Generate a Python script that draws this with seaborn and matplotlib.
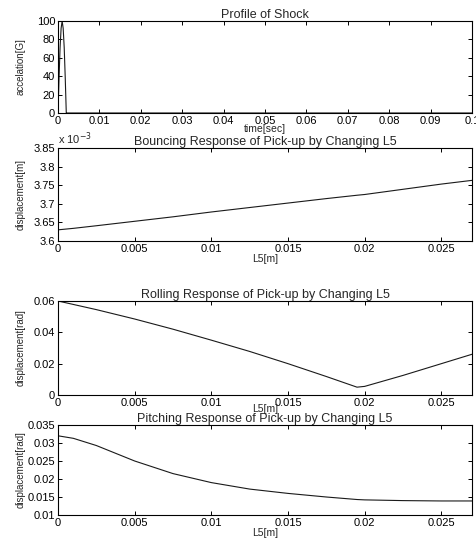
import matplotlib
matplotlib.use("Agg")
import matplotlib.pyplot as plt
import seaborn as sns
from matplotlib.ticker import FixedLocator, FixedFormatter

# ---- data ----
shock_t = [0, 0.00025, 0.0005, 0.00075, 0.001, 0.00125, 0.0015, 0.00175, 0.002, 0.0021, 0.01, 0.05, 0.1]
shock_a = [0, 38, 71, 92, 100, 92, 71, 38, 0, 0, 0, 0, 0]

l5 = [0, 0.001, 0.0025, 0.005, 0.0075, 0.01, 0.0125, 0.015, 0.0175, 0.0195, 0.02, 0.0225, 0.025, 0.027]
bounce = [3.630e-3, 3.634e-3, 3.641e-3, 3.653e-3, 3.665e-3, 3.678e-3, 3.690e-3, 3.702e-3, 3.714e-3,
          3.723e-3, 3.725e-3, 3.739e-3, 3.753e-3, 3.763e-3]
roll = [0.060, 0.0578, 0.0545, 0.0485, 0.0420, 0.0350, 0.0278, 0.0200, 0.0118, 0.0050, 0.0055, 0.0125, 0.0200, 0.0260]
pitch = [0.0320, 0.0313, 0.0293, 0.0250, 0.0215, 0.0190, 0.0172, 0.0160, 0.0150, 0.0143, 0.0142, 0.0140, 0.0139, 0.0139]

titles = ["Profile of Shock",
          "Bouncing Response of Pick-up by Changing L5",
          "Rolling Response of Pick-up by Changing L5",
          "Pitching Response of Pick-up by Changing L5"]
ylabels = ["accelation[G]", "displacement[m]", "displacement[rad]", "displacement[rad]"]
xlabels = ["time[sec]", "L5[m]", "L5[m]", "L5[m]"]

x1_ticks = [0, 0.01, 0.02, 0.03, 0.04, 0.05, 0.06, 0.07, 0.08, 0.09, 0.1]
x1_labels = ["0", "0.01", "0.02", "0.03", "0.04", "0.05", "0.06", "0.07", "0.08", "0.09", "0.1"]
y1_ticks = [0, 20, 40, 60, 80, 100]
y1_labels = ["0", "20", "40", "60", "80", "100"]

xl_ticks = [0, 0.005, 0.01, 0.015, 0.02, 0.025]
xl_labels = ["0", "0.005", "0.01", "0.015", "0.02", "0.025"]

y2_ticks = [3.6e-3, 3.65e-3, 3.7e-3, 3.75e-3, 3.8e-3, 3.85e-3]
y2_labels = ["3.6", "3.65", "3.7", "3.75", "3.8", "3.85"]
y3_ticks = [0, 0.02, 0.04, 0.06]
y3_labels = ["0", "0.02", "0.04", "0.06"]
y4_ticks = [0.01, 0.015, 0.02, 0.025, 0.03, 0.035]
y4_labels = ["0.01", "0.015", "0.02", "0.025", "0.03", "0.035"]

# ---- style ----
sns.set_style("ticks")
plt.rcParams["font.family"] = ["Liberation Sans", "DejaVu Sans"]
plt.rcParams["xtick.direction"] = "in"
plt.rcParams["ytick.direction"] = "in"

W, H = 477, 539
fig = plt.figure(figsize=(W / 100, H / 100), dpi=100)

left, right = 58, 472
boxes = [(21, 113), (148, 241), (301, 395), (425, 515)]
axes = []
for top, bot in boxes:
    ax = fig.add_axes([left / W, 1 - bot / H, (right - left) / W, (bot - top) / H])
    axes.append(ax)

lc = "#1a1a1a"
lw = 0.8
sns.lineplot(x=shock_t, y=shock_a, ax=axes[0], color=lc, lw=lw, estimator=None, sort=False)
sns.lineplot(x=l5, y=bounce, ax=axes[1], color=lc, lw=lw, estimator=None, sort=False)
sns.lineplot(x=l5, y=roll, ax=axes[2], color=lc, lw=lw, estimator=None, sort=False)
sns.lineplot(x=l5, y=pitch, ax=axes[3], color=lc, lw=lw, estimator=None, sort=False)

xlims = [(0, 0.1), (0, 0.027), (0, 0.027), (0, 0.027)]
ylims = [(0, 100), (3.6e-3, 3.85e-3), (0, 0.06), (0.01, 0.035)]
xt = [(x1_ticks, x1_labels), (xl_ticks, xl_labels), (xl_ticks, xl_labels), (xl_ticks, xl_labels)]
yt = [(y1_ticks, y1_labels), (y2_ticks, y2_labels), (y3_ticks, y3_labels), (y4_ticks, y4_labels)]
xpads = [-1, 0, -3, 0]

fs = 8
for i, ax in enumerate(axes):
    ax.set_xlim(*xlims[i])
    ax.set_ylim(*ylims[i])
    ax.xaxis.set_major_locator(FixedLocator(xt[i][0]))
    ax.xaxis.set_major_formatter(FixedFormatter(xt[i][1]))
    ax.yaxis.set_major_locator(FixedLocator(yt[i][0]))
    ax.yaxis.set_major_formatter(FixedFormatter(yt[i][1]))
    ax.tick_params(which="both", direction="in", top=True, right=True, length=3,
                   width=0.7, labelsize=fs, pad=2, colors="black")
    for s in ax.spines.values():
        s.set_visible(True)
        s.set_linewidth(0.8)
        s.set_color("black")
    ax.set_title(titles[i], fontsize=9, pad=2)
    ax.set_xlabel(xlabels[i], fontsize=7.5, labelpad=xpads[i])
    ax.set_ylabel(ylabels[i], fontsize=7, labelpad=3)
    ax.yaxis.set_label_coords(-0.078, 0.5)

axes[1].text(0.0, 1.01, r"x 10$^{-3}$", transform=axes[1].transAxes, fontsize=fs,
             ha="left", va="bottom")

fig.savefig("out.png", dpi=100, facecolor="white")
